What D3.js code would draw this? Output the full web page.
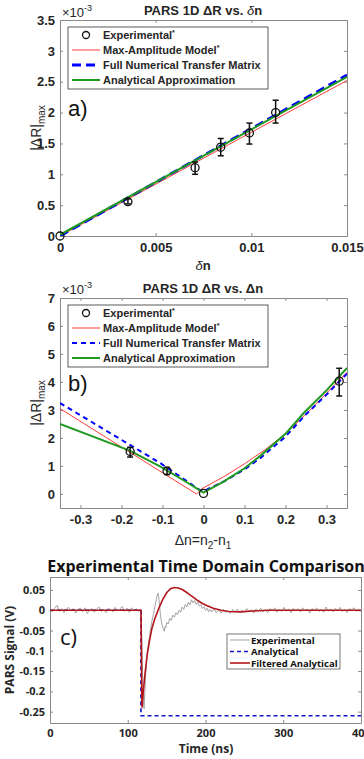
<!DOCTYPE html>
<html>
<head>
<meta charset="utf-8">
<script src="https://cdn.jsdelivr.net/npm/d3@7"></script>
<style>
  body { margin: 0; background: #fff; }
  svg { display: block; }
</style>
</head>
<body>
<div id="vis"></div>
<script>
// ---- panel a) |dR|max vs delta n (values x1e-3)
const aExpX = [0, 0.00355, 0.00706, 0.0084, 0.0099, 0.01127]
const aExpY = [0, 0.556, 1.107, 1.44, 1.67, 2.0]
const aErrLo = [0, 0.52, 1.0, 1.3, 1.49, 1.83]
const aErrHi = [0, 0.6, 1.2, 1.58, 1.83, 2.2]
const aLineX = [0, 0.015]
const aMaxAmp = [0, 2.52]
const aNumeric = [0, 2.61]
const aApprox = [0.02, 2.58]
const aXTicks = [0, 0.005, 0.01, 0.015]
const aYTicks = [0, 0.5, 1, 1.5, 2, 2.5, 3, 3.5]

// ---- panel b) |dR|max vs Delta n (values x1e-3)
const bExpX = [-0.179, -0.089, 0, 0.331]
const bExpY = [1.52, 0.82, 0.02, 4.03]
const bErrLo = [1.32, 0.7, 0.02, 3.5]
const bErrHi = [1.67, 0.95, 0.02, 4.49]
const bMaxAmpX = [-0.35, -0.017, -0.004, 0.05, 0.1, 0.15, 0.2, 0.25, 0.3, 0.35]
const bMaxAmpY = [3.05, 0, 0.19, 0.62, 1.08, 1.58, 2.15, 2.85, 3.6, 4.35]
const bNumericX = [-0.35, -0.105, -0.01, 0, 0.05, 0.1, 0.14, 0.2, 0.25, 0.3, 0.35]
const bNumericY = [3.25, 1.1, 0.15, 0.1, 0.45, 0.88, 1.3, 2.05, 2.85, 3.55, 4.3]
const bApproxX = [-0.35, -0.18, -0.105, -0.05, 0, 0.05, 0.1, 0.14, 0.2, 0.245, 0.3, 0.35]
const bApproxY = [2.5, 1.55, 0.98, 0.5, 0.05, 0.45, 0.92, 1.38, 2.15, 2.9, 3.7, 4.5]
const bXTicks = [-0.3, -0.2, -0.1, 0, 0.1, 0.2, 0.3]
const bYTicks = [0, 1, 2, 3, 4, 5, 6, 7]

// ---- panel c) time domain (ns, V)
const cExpT = [].concat(d3.range(0, 117, 3),
  [116, 117, 118, 119, 120, 121, 122, 123, 124, 125, 126, 127, 128, 129, 130, 131, 132, 133, 134, 135,
   136, 137, 138, 139, 140, 141, 142, 143, 144, 145, 146, 147, 148, 149, 150, 152, 154, 156, 158, 160,
   162, 164, 166, 168, 170, 172, 174, 176, 178, 180, 182, 184, 186, 188, 190, 192, 194, 196, 198, 200,
   202, 204, 206],
  d3.range(208, 401, 3))
const cExp = [
  0.002, -0.004, 0.005, 0.012, -0.003, 0.004, -0.006, 0.003, 0.007, -0.002,
  0.004, -0.007, 0.002, 0.005, -0.004, 0.006, -0.008, 0.001, 0.004, -0.005,
  0.003, 0.008, -0.003, 0.002, -0.006, 0.005, 0.001, -0.004, 0.007, -0.002,
  0.004, 0.009, -0.003, 0.005, -0.005, 0.006, -0.002, 0.004, -0.003,
  0.003, 0.002, -0.06, -0.15, -0.225, -0.243, -0.2, -0.16, -0.13, -0.105,
  -0.09, -0.075, -0.065, -0.05, -0.04, -0.028, -0.017, -0.01, 0.0, 0.01,
  0.02, 0.03, 0.038, 0.042, 0.03, 0.01, -0.01, -0.025, -0.035, -0.042,
  -0.048, -0.052, -0.04, -0.043, -0.03, -0.034, -0.02, -0.025, -0.012, -0.017,
  -0.006, -0.011, 0.0, -0.005, 0.008, 0.002, 0.014, 0.008, 0.02, 0.013,
  0.026, 0.018, 0.024, 0.014, 0.02, 0.01, 0.014, 0.004, 0.009, 0.0,
  0.005, -0.004, 0.002,
  -0.004, 0.003, -0.006, 0.001, -0.007, 0.002, -0.005, -0.001, -0.008, 0.002,
  -0.004, 0.003, -0.006, 0.0, -0.005, 0.004, -0.003, 0.001, -0.007, 0.003,
  -0.002, 0.005, -0.004, 0.002, -0.006, 0.004, -0.001, 0.006, -0.005, 0.002,
  -0.003, 0.007, -0.002, 0.003, -0.006, 0.005, -0.001, 0.004, -0.004, 0.006,
  -0.002, 0.003, -0.007, 0.004, 0.0, 0.006, -0.003, 0.002, -0.005, 0.008,
  -0.002, 0.003, -0.004, 0.005, -0.001, 0.007, -0.003, 0.002, -0.006, 0.004,
  0.001, 0.006, -0.003, 0.003, -0.002]
const cAnalyticalT = [0, 117, 117, 400]
const cAnalytical = [0, 0, -0.26, -0.26]
const cFilteredT = [0, 117, 118.3, 120, 122, 125, 128, 131, 135, 140, 145, 150, 155, 160, 165, 170,
  175, 180, 185, 190, 195, 200, 210, 220, 230, 245, 260, 280, 400]
const cFiltered = [0, 0, -0.24, -0.2, -0.16, -0.11, -0.075, -0.045, -0.02, 0.005, 0.027, 0.043, 0.053,
  0.056, 0.055, 0.051, 0.045, 0.038, 0.031, 0.024, 0.018, 0.013, 0.005, 0.0, -0.003, -0.004, -0.002, 0, 0]
const cXTicks = [0, 100, 200, 300, 400]
const cYTicks = [0.05, 0, -0.05, -0.1, -0.15, -0.2, -0.25]

const W = 364, H = 759
const RED = '#ff3b3b', BLUE = '#0000ff', GREEN = '#1f9a1f', AXIS = '#8a8a8a', INK = '#262626'
const ARIAL = '"Liberation Sans", Arial, sans-serif'
const OPEN = '"Open Sans", "Noto Sans", sans-serif'

const svg = d3.select('#vis').append('svg').attr('width', W).attr('height', H)

// MATLAB style boxed axes with inward ticks on all four sides
function drawBox(g, x, y, xTicks, yTicks, fmt, font, size, xPad, yPad) {
  const [x0, x1] = x.range(), [y0, y1] = y.range()
  const axes = [
    [d3.axisBottom(x).tickValues(xTicks).tickFormat(fmt).tickPadding(xPad), 'translate(0,' + y0 + ')', true],
    [d3.axisTop(x).tickValues(xTicks).tickFormat(''), 'translate(0,' + y1 + ')', false],
    [d3.axisLeft(y).tickValues(yTicks).tickFormat(fmt).tickPadding(yPad), 'translate(' + x0 + ',0)', true],
    [d3.axisRight(y).tickValues(yTicks).tickFormat(''), 'translate(' + x1 + ',0)', false],
  ]
  axes.forEach(function (a) {
    const ax = g.append('g').attr('transform', a[1])
      .call(a[0].tickSizeInner(-3).tickSizeOuter(0))
    ax.select('.domain').attr('stroke', AXIS)
    ax.selectAll('.tick line').attr('stroke', AXIS)
    ax.selectAll('text').attr('fill', INK).style('font-family', font)
      .style('font-size', size + 'px').style('font-weight', 'bold')
  })
}

function clipTo(id, x, y) {
  const [x0, x1] = x.range(), [y0, y1] = y.range()
  svg.append('clipPath').attr('id', id).append('rect')
    .attr('x', x0).attr('y', y1).attr('width', x1 - x0).attr('height', y0 - y1)
}

function curve(g, x, y, xs, ys, color, width, dash) {
  g.append('path').datum(d3.zip(xs, ys))
    .attr('d', d3.line().x(d => x(d[0])).y(d => y(d[1])))
    .attr('fill', 'none').attr('stroke', color).attr('stroke-width', width)
    .attr('stroke-dasharray', dash || null)
}

function experimental(g, x, y, xs, ys, lo, hi) {
  const pts = xs.map((v, i) => ({ x: v, y: ys[i], lo: lo[i], hi: hi[i] }))
  const eb = g.append('g').attr('stroke', '#111').attr('stroke-width', 1.5)
  pts.filter(d => d.hi > d.lo).forEach(function (d) {
    eb.append('line').attr('x1', x(d.x)).attr('x2', x(d.x)).attr('y1', y(d.lo)).attr('y2', y(d.hi))
    eb.append('line').attr('x1', x(d.x) - 3).attr('x2', x(d.x) + 3).attr('y1', y(d.lo)).attr('y2', y(d.lo))
    eb.append('line').attr('x1', x(d.x) - 3).attr('x2', x(d.x) + 3).attr('y1', y(d.hi)).attr('y2', y(d.hi))
  })
  g.selectAll(null).data(pts).enter().append('circle')
    .attr('cx', d => x(d.x)).attr('cy', d => y(d.y)).attr('r', 4)
    .attr('fill', 'none').attr('stroke', '#111').attr('stroke-width', 1.3)
}

function legendAB(top, numericWidth, numericDash) {
  const lg = svg.append('g').style('font-family', ARIAL).style('font-size', '11px').style('font-weight', 'bold')
  lg.append('rect').attr('x', 68).attr('y', top).attr('width', 200).attr('height', 62)
    .attr('fill', '#fff').attr('stroke', '#333').attr('stroke-width', 0.8)
  const rows = [
    ['Experimental', null], ['Max-Amplitude Model', [RED, 1, null]],
    ['Full Numerical Transfer Matrix', [BLUE, numericWidth, numericDash]], ['Analytical Approximation', [GREEN, 2, null]],
  ]
  rows.forEach(function (r, i) {
    const cy = top + 8 + i * 15
    if (r[1]) {
      lg.append('line').attr('x1', 72).attr('x2', 100).attr('y1', cy).attr('y2', cy)
        .attr('stroke', r[1][0]).attr('stroke-width', r[1][1]).attr('stroke-dasharray', r[1][2])
    } else {
      lg.append('circle').attr('cx', 86).attr('cy', cy).attr('r', 3.5)
        .attr('fill', 'none').attr('stroke', '#111').attr('stroke-width', 1.3)
    }
    const t = lg.append('text').attr('x', 103).attr('y', cy + 4).attr('fill', INK).text(r[0])
    if (i < 2) t.append('tspan').attr('font-size', '7px').attr('dy', -4).text('*')
  })
}

function scaleNote(y) {
  const t = svg.append('text').attr('x', 62).attr('y', y).style('font-family', ARIAL)
    .style('font-size', '13px').attr('fill', INK).text('\u00d710')
  t.append('tspan').attr('font-size', '9px').attr('dy', -6).text('-3')
}

function yLabelAB(cy) {
  const t = svg.append('text').attr('transform', 'translate(41,' + cy + ')rotate(-90)')
    .attr('text-anchor', 'middle').style('font-family', ARIAL).style('font-size', '14px').attr('fill', INK)
    .text('|\u0394R|')
  t.append('tspan').attr('font-size', '10px').attr('dy', 4).text('max')
}

function title(x, y, text, greek) {
  const t = svg.append('text').attr('x', x).attr('y', y).attr('text-anchor', 'middle')
    .style('font-family', ARIAL).style('font-size', '13px').style('font-weight', 'bold').attr('fill', INK)
    .text(text)
  if (greek) t.append('tspan').style('font-style', 'italic').style('font-weight', 'normal').text(greek)
  t.append('tspan').text('n')
}

// ================= panel a
{
  const x = d3.scaleLinear().domain([0, 0.015]).range([60, 347])
  const y = d3.scaleLinear().domain([0, 3.5]).range([236, 20])
  const g = svg.append('g')
  clipTo('clipA', x, y)
  drawBox(g, x, y, aXTicks, aYTicks, d => String(d), ARIAL, 13, 7, 5)
  const p = g.append('g').attr('clip-path', 'url(#clipA)')
  curve(p, x, y, aLineX, aMaxAmp, RED, 1)
  curve(p, x, y, aLineX, aNumeric, BLUE, 2.8, '9,5')
  curve(p, x, y, aLineX, aApprox, GREEN, 2)
  experimental(g, x, y, aExpX, aExpY, aErrLo, aErrHi)
  legendAB(27, 2.8, '9,5')
  scaleNote(17)
  yLabelAB(128)
  title(203, 15, 'PARS 1D \u0394R vs. ', '\u03b4')
  const xl = svg.append('text').attr('x', 203).attr('y', 270).attr('text-anchor', 'middle')
    .style('font-family', ARIAL).style('font-size', '13px').attr('fill', INK)
  xl.append('tspan').style('font-style', 'italic').text('\u03b4')
  xl.append('tspan').style('font-weight', 'bold').text('n')
  svg.append('text').attr('x', 68).attr('y', 116).style('font-family', ARIAL).style('font-size', '22px')
    .attr('fill', '#111').text('a)')
}

// ================= panel b
{
  const x = d3.scaleLinear().domain([-0.35, 0.35]).range([60, 347])
  const y = d3.scaleLinear().domain([-0.5, 7]).range([508, 298])
  const g = svg.append('g')
  clipTo('clipB', x, y)
  drawBox(g, x, y, bXTicks, bYTicks, d => String(d), ARIAL, 13, 7, 5)
  const p = g.append('g').attr('clip-path', 'url(#clipB)')
  curve(p, x, y, bMaxAmpX, bMaxAmpY, RED, 1)
  curve(p, x, y, bNumericX, bNumericY, BLUE, 2, '5,4')
  curve(p, x, y, bApproxX, bApproxY, GREEN, 2)
  experimental(g, x, y, bExpX, bExpY, bErrLo, bErrHi)
  legendAB(305, 2, '5,4')
  scaleNote(294)
  yLabelAB(403)
  title(203, 293, 'PARS 1D \u0394R vs. \u0394', null)
  const xl = svg.append('text').attr('x', 203).attr('y', 545).attr('text-anchor', 'middle')
    .style('font-family', ARIAL).style('font-size', '14px').attr('fill', INK).text('\u0394n=n')
  xl.append('tspan').attr('font-size', '10px').attr('dy', 4).text('2')
  xl.append('tspan').attr('dy', -4).text('-n')
  xl.append('tspan').attr('font-size', '10px').attr('dy', 4).text('1')
  svg.append('text').attr('x', 68).attr('y', 391).style('font-family', ARIAL).style('font-size', '22px')
    .attr('fill', '#111').text('b)')
}

// ================= panel c
{
  const x = d3.scaleLinear().domain([0, 400]).range([50, 361])
  const y = d3.scaleLinear().domain([-0.278, 0.082]).range([723, 577])
  const g = svg.append('g')
  clipTo('clipC', x, y)
  drawBox(g, x, y, cXTicks, cYTicks, d => String(d), OPEN, 11, 6, 5)
  const p = g.append('g').attr('clip-path', 'url(#clipC)')
  curve(p, x, y, cExpT, cExp, '#a3a3a3', 1)
  curve(p, x, y, cAnalyticalT, cAnalytical, '#1414c8', 1.6, '4,3')
  curve(p, x, y, cFilteredT, cFiltered, '#b3161b', 1.6)

  const lg = svg.append('g').style('font-family', OPEN).style('font-size', '9.5px').style('font-weight', 'bold')
  lg.append('rect').attr('x', 227).attr('y', 634).attr('width', 113).attr('height', 35)
    .attr('fill', '#fff').attr('stroke', '#555').attr('stroke-width', 0.8)
  const rows = [['Experimental', '#a3a3a3', 1, null], ['Analytical', '#1414c8', 1.6, '4,3'],
    ['Filtered Analytical', '#b3161b', 1.6, null]]
  rows.forEach(function (r, i) {
    const cy = 640 + i * 11.5
    lg.append('line').attr('x1', 230).attr('x2', 250).attr('y1', cy).attr('y2', cy)
      .attr('stroke', r[1]).attr('stroke-width', r[2]).attr('stroke-dasharray', r[3])
    lg.append('text').attr('x', 251).attr('y', cy + 3.5).attr('fill', '#111').text(r[0])
  })

  svg.append('text').attr('x', 206).attr('y', 572).attr('text-anchor', 'middle')
    .style('font-family', OPEN).style('font-size', '16px').style('font-weight', 'bold').attr('fill', '#111')
    .text('Experimental Time Domain Comparison')
  svg.append('text').attr('x', 206).attr('y', 753).attr('text-anchor', 'middle')
    .style('font-family', OPEN).style('font-size', '12px').style('font-weight', 'bold').attr('fill', INK)
    .text('Time (ns)')
  svg.append('text').attr('transform', 'translate(14,650)rotate(-90)').attr('text-anchor', 'middle')
    .style('font-family', OPEN).style('font-size', '12px').style('font-weight', 'bold').attr('fill', INK)
    .text('PARS Signal (V)')
  svg.append('text').attr('x', 60).attr('y', 645).style('font-family', OPEN).style('font-size', '22px')
    .attr('fill', '#111').text('c)')
}
</script>
</body>
</html>
